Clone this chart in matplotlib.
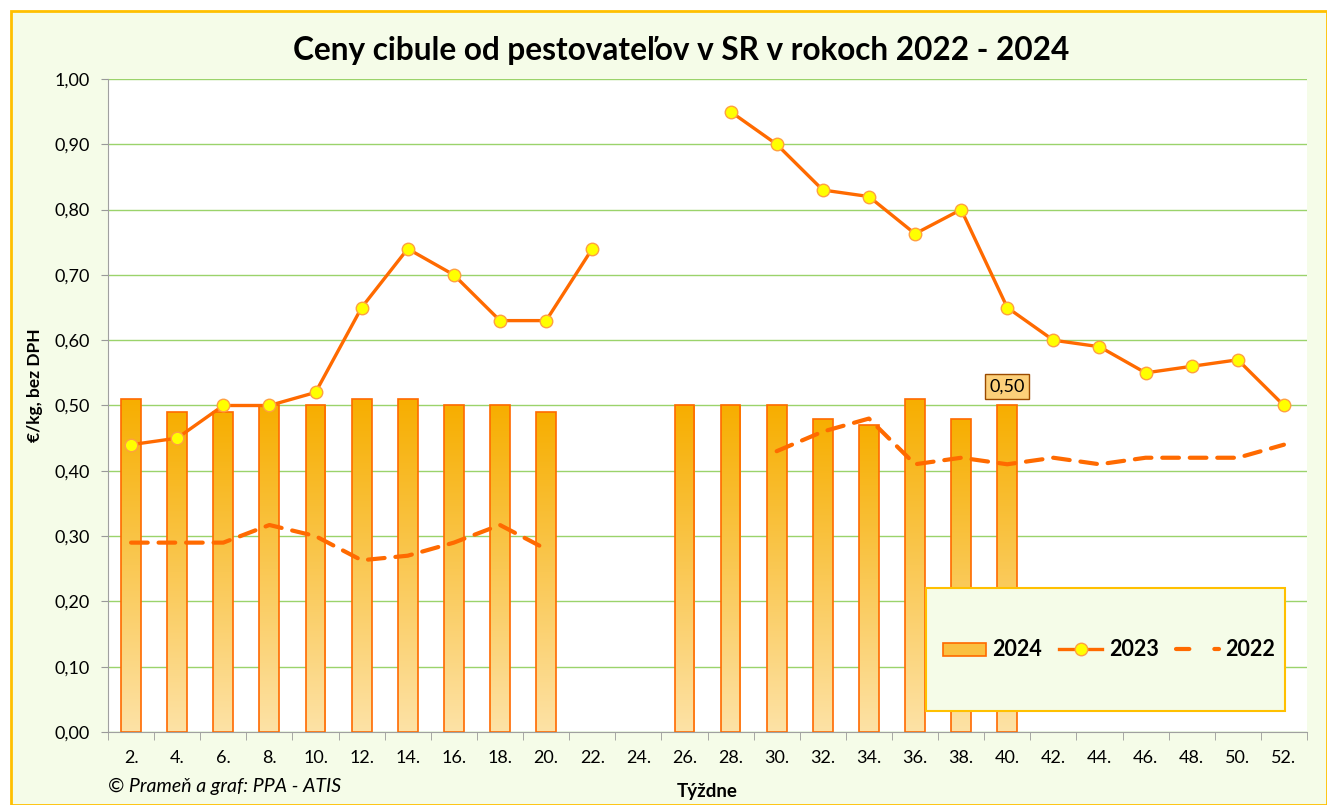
import matplotlib
matplotlib.use("Agg")
import matplotlib.pyplot as plt
import numpy as np
from matplotlib.colors import LinearSegmentedColormap
from matplotlib.lines import Line2D
from matplotlib.patches import Rectangle
from matplotlib.legend_handler import HandlerBase

plt.rcParams["font.family"] = ["Lato", "DejaVu Sans"]

weeks = [f"{w}." for w in range(2, 53, 2)]
nan = np.nan
prices_2024 = [0.51, 0.49, 0.49, 0.50, 0.50, 0.51, 0.51, 0.50, 0.50, 0.49,
               nan, nan, 0.50, 0.50, 0.50, 0.48, 0.47, 0.51, 0.48, 0.50,
               nan, nan, nan, nan, nan, nan]
prices_2023 = [0.44, 0.45, 0.50, 0.50, 0.52, 0.65, 0.74, 0.70, 0.63, 0.63,
               0.74, nan, nan, 0.95, 0.90, 0.83, 0.82, 0.763, 0.80, 0.65,
               0.60, 0.59, 0.55, 0.56, 0.57, 0.50]
prices_2022 = [0.29, 0.29, 0.29, 0.317, 0.30, 0.263, 0.27, 0.29, 0.317, 0.28,
               nan, nan, nan, nan, 0.43, 0.46, 0.48, 0.41, 0.42, 0.41,
               0.42, 0.41, 0.42, 0.42, 0.42, 0.44]

ORANGE = "#FF6A00"
BG = "#F5FCE8"
grad = LinearSegmentedColormap.from_list("bar", ["#FDE2A6", "#F7AE00"])

fig = plt.figure(figsize=(13.27, 8.05), dpi=100)
fig.patch.set_facecolor("white")
fig.add_artist(Rectangle((11 / 1327, 0), 1 - 11 / 1327, 1 - 11 / 805, transform=fig.transFigure,
                         facecolor=BG, edgecolor="#FFC000", linewidth=2, zorder=-5))

ax = fig.add_axes([108 / 1327, 73 / 805, 1199 / 1327, 653 / 805])
ax.set_facecolor("white")
x = np.arange(len(weeks))

bars = ax.bar(x, prices_2024, width=0.43, color="none", edgecolor=ORANGE, linewidth=1.2, zorder=3)
gradient = np.linspace(0, 1, 256).reshape(-1, 1)
for b in bars:
    h = b.get_height()
    if np.isnan(h):
        continue
    x0 = b.get_x()
    img = ax.imshow(gradient, cmap=grad, aspect="auto", origin="lower",
                    extent=[x0, x0 + b.get_width(), 0, h], zorder=2)
    img.set_clip_path(b)

ax.plot(x, prices_2022, color=ORANGE, lw=3, ls=(0, (4, 2.6)), dash_capstyle="round", zorder=4)
ax.plot(x, prices_2023, color=ORANGE, lw=2.4, marker="o", ms=9,
        markerfacecolor="#FFFF00", markeredgecolor="#FFA040", markeredgewidth=1, zorder=5)

# data label on the last 2024 bar
ax.annotate("0,50", (19, 0.50), xytext=(0, 8), textcoords="offset points",
            ha="center", va="bottom", fontsize=13,
            bbox=dict(boxstyle="square,pad=0.25", facecolor="#FCD07A", edgecolor="#9A4A00", lw=1))

ax.set_xlim(-0.5, len(weeks) - 0.5)
ax.set_ylim(0, 1.0)
ax.set_yticks(np.arange(0, 1.01, 0.1))
ax.set_yticklabels([f"{v:.2f}".replace(".", ",") for v in np.arange(0, 1.01, 0.1)], fontsize=13)
ax.set_xticks(x)
ax.set_xticklabels(weeks, fontsize=13)
ax.set_xticks(np.arange(-0.5, len(weeks), 1), minor=True)
ax.tick_params(axis="x", which="major", length=0, pad=13)
ax.tick_params(axis="x", which="minor", length=6, color="#999999")
ax.tick_params(axis="y", length=5, color="#999999", pad=8)
ax.grid(axis="y", color="#9BD36B", lw=1, zorder=0)
ax.set_axisbelow(True)
for s in ("top", "right"):
    ax.spines[s].set_visible(False)
for s in ("left", "bottom"):
    ax.spines[s].set_color("#A0A0A0")
    ax.spines[s].set_zorder(6)

fig.text(0.513, 0.937, "Ceny cibule od pestovateľov v SR v rokoch 2022 - 2024",
         ha="center", va="center", fontsize=22.7, fontweight="bold")
fig.text(35 / 1327, 1 - 385 / 805, "€/kg, bez DPH", rotation=90, ha="center", va="center",
         fontsize=12.5, fontweight="bold")
fig.text(707 / 1327, 1 - 791 / 805, "Týždne", ha="center", va="center", fontsize=13.5, fontweight="bold")
fig.text(108 / 1327, 1 - 786 / 805, "© Prameň a graf: PPA - ATIS", ha="left", va="center",
         fontsize=14, fontstyle="italic")


class GradientBarHandler(HandlerBase):
    def create_artists(self, legend, orig, xd, yd, w, h, fs, trans):
        r = Rectangle((xd, yd + h * 0.05), w, h * 0.85, facecolor="#FAC040", edgecolor=ORANGE,
                      lw=1.2, transform=trans)
        return [r]


legend_box = Rectangle((926 / 1327, 1 - 711 / 805), (1285 - 926) / 1327, (711 - 588) / 805,
                       transform=fig.transFigure, facecolor=BG, edgecolor="#FFC000", lw=1.5, zorder=10)
fig.add_artist(legend_box)
h2024 = Rectangle((0, 0), 1, 1)
h2023 = Line2D([], [], color=ORANGE, lw=2.4, marker="o", ms=9,
               markerfacecolor="#FFFF00", markeredgecolor="#FFA040")
h2022 = Line2D([], [], color=ORANGE, lw=3, ls=(0, (3.2, 6)), dash_capstyle="round")
leg = fig.legend([h2024, h2023, h2022], ["2024", "2023", "2022"], ncol=3,
                 loc="center", bbox_to_anchor=(1109 / 1327, 1 - 650 / 805),
                 frameon=False, prop=dict(size=15.5, weight="bold"), handlelength=2.0,
                 columnspacing=0.8, handletextpad=0.3,
                 handler_map={h2024: GradientBarHandler()})
leg.set_zorder(11)

fig.savefig("out.png", dpi=100, facecolor=fig.get_facecolor())
